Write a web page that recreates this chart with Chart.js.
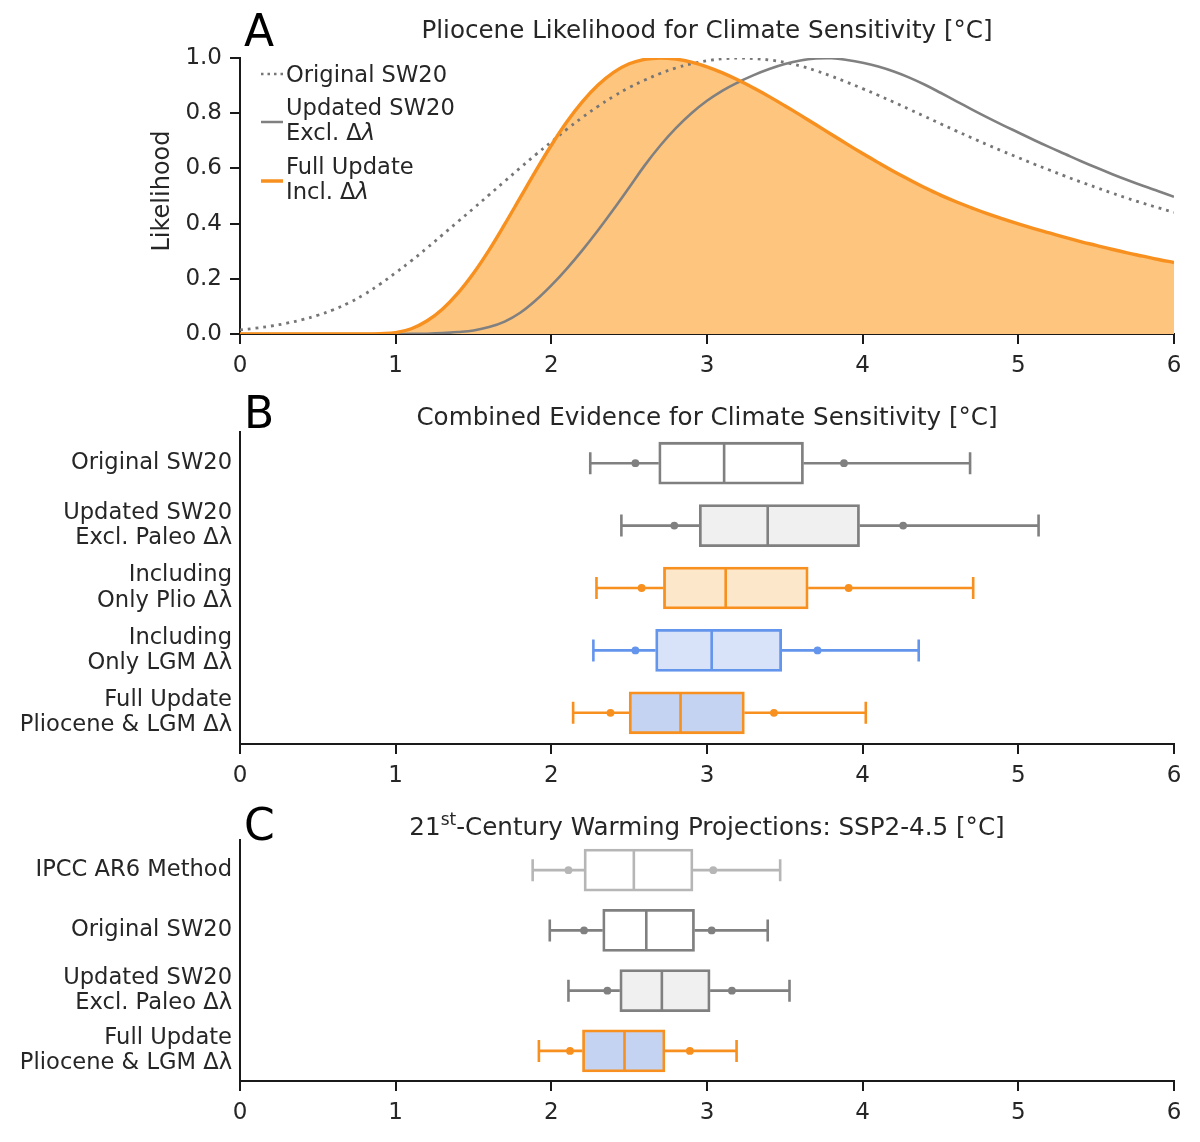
<!DOCTYPE html>
<html>
<head>
<meta charset="utf-8">
<script src="https://cdn.jsdelivr.net/npm/chart.js@4.4.0/dist/chart.umd.min.js"></script>
<style>
  body { margin: 0; background: #fff; }
  #page { position: relative; width: 1200px; height: 1142px; }
  canvas { position: absolute; left: 0; }
</style>
</head>
<body>
<div id="page">
  <canvas id="panelA" width="1200" height="390" style="top:0"></canvas>
  <canvas id="panelB" width="1200" height="400" style="top:390px"></canvas>
  <canvas id="panelC" width="1200" height="352" style="top:790px"></canvas>
</div>
<script>
// ---- panel A: likelihood curves ----
const sensitivity = [
  0.0, 0.1, 0.2, 0.3, 0.4, 0.5, 0.6, 0.7, 0.8, 0.9,
  1.0, 1.1, 1.2, 1.3, 1.4, 1.5, 1.6, 1.7, 1.8, 1.9,
  2.0, 2.1, 2.2, 2.3, 2.4, 2.5, 2.6, 2.7, 2.8, 2.9,
  3.0, 3.1, 3.2, 3.3, 3.4, 3.5, 3.6, 3.7, 3.8, 3.9,
  4.0, 4.1, 4.2, 4.3, 4.4, 4.5, 4.6, 4.7, 4.8, 4.9,
  5.0, 5.1, 5.2, 5.3, 5.4, 5.5, 5.6, 5.7, 5.8, 5.9, 6.0
];
const originalSW20 = [
  0.015, 0.021, 0.029, 0.039, 0.052, 0.068, 0.088, 0.113, 0.144, 0.181,
  0.222, 0.265, 0.311, 0.359, 0.407, 0.455, 0.504, 0.553, 0.602, 0.650,
  0.696, 0.742, 0.785, 0.825, 0.861, 0.893, 0.920, 0.944, 0.964, 0.979,
  0.990, 0.997, 1.000, 0.998, 0.993, 0.984, 0.971, 0.954, 0.934, 0.912,
  0.889, 0.865, 0.840, 0.814, 0.788, 0.762, 0.736, 0.711, 0.686, 0.662,
  0.639, 0.616, 0.594, 0.572, 0.551, 0.531, 0.511, 0.492, 0.474, 0.457, 0.441
];
const updatedSW20 = [
  0, 0, 0, 0, 0, 0, 0, 0, 0, 0,
  0, 0.0005, 0.001, 0.003, 0.007, 0.013, 0.025, 0.045, 0.077, 0.122,
  0.176, 0.237, 0.304, 0.376, 0.452, 0.531, 0.611, 0.683, 0.746, 0.800,
  0.845, 0.882, 0.912, 0.938, 0.960, 0.978, 0.991, 0.998, 0.999, 0.993,
  0.983, 0.969, 0.951, 0.929, 0.903, 0.874, 0.844, 0.814, 0.785, 0.757,
  0.730, 0.703, 0.677, 0.652, 0.627, 0.603, 0.580, 0.558, 0.537, 0.517, 0.497
];
const fullUpdate = [
  0, 0, 0, 0, 0, 0, 0, 0, 0, 0.0015,
  0.005, 0.019, 0.047, 0.090, 0.148, 0.220, 0.304, 0.397, 0.494, 0.591,
  0.684, 0.769, 0.842, 0.902, 0.948, 0.979, 0.995, 1.000, 0.996, 0.985,
  0.968, 0.946, 0.920, 0.891, 0.860, 0.827, 0.793, 0.758, 0.723, 0.688,
  0.654, 0.621, 0.589, 0.559, 0.530, 0.503, 0.479, 0.457, 0.436, 0.417,
  0.399, 0.382, 0.366, 0.350, 0.335, 0.321, 0.307, 0.294, 0.282, 0.270, 0.259
];
const likelihoodTicks = [0, 0.2, 0.4, 0.6, 0.8, 1.0];
const degreeTicks = [0, 1, 2, 3, 4, 5, 6];

// ---- panel B: combined evidence box plots ----
const evidenceLabels = [
  'Original SW20',
  ['Updated SW20', 'Excl. Paleo Δλ'],
  ['Including', 'Only Plio Δλ'],
  ['Including', 'Only LGM Δλ'],
  ['Full Update', 'Pliocene & LGM Δλ']
];
const evidenceWhiskerLo = [2.25, 2.45, 2.29, 2.27, 2.14];
const evidenceDotLo     = [2.54, 2.79, 2.58, 2.54, 2.38];
const evidenceBoxLo     = [2.69, 2.95, 2.72, 2.67, 2.50];
const evidenceMedian    = [3.11, 3.39, 3.12, 3.03, 2.83];
const evidenceBoxHi     = [3.62, 3.98, 3.65, 3.48, 3.24];
const evidenceDotHi     = [3.88, 4.26, 3.91, 3.71, 3.43];
const evidenceWhiskerHi = [4.69, 5.13, 4.71, 4.36, 4.02];

// ---- panel C: 21st-century warming box plots ----
const warmingLabels = [
  'IPCC AR6 Method',
  'Original SW20',
  ['Updated SW20', 'Excl. Paleo Δλ'],
  ['Full Update', 'Pliocene & LGM Δλ']
];
const warmingWhiskerLo = [1.88, 1.99, 2.11, 1.92];
const warmingDotLo     = [2.11, 2.21, 2.36, 2.12];
const warmingBoxLo     = [2.21, 2.33, 2.44, 2.20];
const warmingMedian    = [2.53, 2.61, 2.71, 2.47];
const warmingBoxHi     = [2.91, 2.92, 3.02, 2.73];
const warmingDotHi     = [3.04, 3.03, 3.16, 2.89];
const warmingWhiskerHi = [3.47, 3.39, 3.53, 3.19];

const GREY = '#808080';
const LIGHTGREY = '#b6b6b6';
const ORANGE = '#f7901e';
const BLUE = '#6495ed';
const TEXT = '#262626';
const AXIS = '#1a1a1a';
const FAMILY = '"DejaVu Sans"';

Chart.defaults.font.family = FAMILY;
Chart.defaults.color = TEXT;

const asPoints = ys => sensitivity.map((x, i) => ({ x: x, y: ys[i] }));

// draws a row of text pieces (plain, superscript, italic) starting/centred at x
function drawRuns(ctx, runs, x, y, align, size) {
  const fontOf = r => (r.italic ? 'italic ' : '') + (r.sup ? Math.round(size * 0.68) : size) + 'px ' + FAMILY;
  let total = 0;
  runs.forEach(r => { ctx.font = fontOf(r); total += ctx.measureText(r.text).width; });
  let cx = align === 'center' ? x - total / 2 : x;
  ctx.textAlign = 'left';
  runs.forEach(r => {
    ctx.font = fontOf(r);
    ctx.fillText(r.text, cx, r.sup ? y - size * 0.4 : y);
    cx += ctx.measureText(r.text).width;
  });
}

function panelText(cfg) {
  return {
    id: 'panelText',
    afterDraw(chart) {
      const { ctx, chartArea } = chart;
      ctx.save();
      ctx.textBaseline = 'alphabetic';
      ctx.fillStyle = '#000';
      ctx.font = '44px ' + FAMILY;
      ctx.textAlign = 'left';
      ctx.fillText(cfg.letter, 244, cfg.letterY);

      ctx.fillStyle = TEXT;
      drawRuns(ctx, cfg.title, (chartArea.left + chartArea.right) / 2, cfg.titleY, 'center', 24.6);

      if (cfg.yLabel) {
        ctx.save();
        ctx.translate(169, 191);
        ctx.rotate(-Math.PI / 2);
        ctx.font = '24px ' + FAMILY;
        ctx.textAlign = 'center';
        ctx.fillText(cfg.yLabel, 0, 0);
        ctx.restore();
      }

      (cfg.legend || []).forEach(item => {
        ctx.save();
        ctx.strokeStyle = item.color;
        ctx.lineWidth = item.width;
        ctx.setLineDash(item.dash || []);
        ctx.beginPath();
        ctx.moveTo(261, item.y);
        ctx.lineTo(283, item.y);
        ctx.stroke();
        ctx.restore();
        item.lines.forEach((runs, k) => {
          drawRuns(ctx, runs, 286, item.textY + k * 25, 'left', 22.6);
        });
      });
      ctx.restore();
    }
  };
}

// whiskers, caps, medians and dots of a box plot, placed with the chart's scales
function boxWhiskers(stats, edges) {
  return {
    id: 'boxWhiskers',
    afterDatasetsDraw(chart) {
      const { ctx } = chart;
      const x = chart.scales.x;
      const px = v => x.getPixelForValue(v);
      chart.getDatasetMeta(0).data.forEach((bar, i) => {
        const y = bar.y;
        const half = bar.height / 2 - 1;
        ctx.save();
        ctx.strokeStyle = edges[i];
        ctx.fillStyle = edges[i];
        ctx.lineWidth = 2.6;
        ctx.beginPath();
        ctx.moveTo(px(stats.whiskerLo[i]), y);
        ctx.lineTo(px(stats.boxLo[i]), y);
        ctx.moveTo(px(stats.boxHi[i]), y);
        ctx.lineTo(px(stats.whiskerHi[i]), y);
        ctx.moveTo(px(stats.whiskerLo[i]), y - 11);
        ctx.lineTo(px(stats.whiskerLo[i]), y + 11);
        ctx.moveTo(px(stats.whiskerHi[i]), y - 11);
        ctx.lineTo(px(stats.whiskerHi[i]), y + 11);
        ctx.moveTo(px(stats.median[i]), y - half);
        ctx.lineTo(px(stats.median[i]), y + half);
        ctx.stroke();
        [stats.dotLo[i], stats.dotHi[i]].forEach(v => {
          ctx.beginPath();
          ctx.arc(px(v), y, 3.9, 0, Math.PI * 2);
          ctx.fill();
        });
        ctx.restore();
      });
    }
  };
}

function degreeAxis(height) {
  return {
    type: 'linear',
    min: 0,
    max: 6,
    afterBuildTicks: s => { s.ticks = degreeTicks.map(v => ({ value: v })); },
    afterFit: s => { s.height = height; },
    grid: { drawOnChartArea: false, tickLength: 10, lineWidth: 2, color: AXIS },
    border: { display: true, color: AXIS, width: 2 },
    ticks: { padding: 8, color: TEXT, font: { size: 23 } }
  };
}

// ---- Panel A ----
new Chart(document.getElementById('panelA'), {
  type: 'line',
  data: {
    datasets: [
      {
        data: asPoints(fullUpdate),
        borderColor: ORANGE,
        borderWidth: 3.4,
        backgroundColor: '#fec57f',
        fill: 'origin'
      },
      {
        data: asPoints(updatedSW20),
        borderColor: GREY,
        borderWidth: 2.6,
        fill: false
      },
      {
        data: asPoints(originalSW20),
        borderColor: '#767676',
        borderWidth: 2.8,
        borderDash: [2.8, 5],
        fill: false
      }
    ]
  },
  options: {
    responsive: false,
    animation: false,
    devicePixelRatio: 1,
    layout: { padding: { left: 0, right: 26, top: 58, bottom: 0 } },
    elements: { point: { radius: 0 }, line: { tension: 0.4 } },
    plugins: {
      legend: { display: false },
      tooltip: { enabled: false },
      filler: { drawTime: 'beforeDatasetsDraw' }
    },
    scales: {
      x: degreeAxis(56),
      y: {
        type: 'linear',
        min: 0,
        max: 1,
        afterBuildTicks: s => { s.ticks = likelihoodTicks.map(v => ({ value: v })); },
        afterFit: s => { s.width = 240; },
        grid: { drawOnChartArea: false, tickLength: 10, lineWidth: 2, color: AXIS },
        border: { display: true, color: AXIS, width: 2 },
        ticks: { padding: 8, color: TEXT, font: { size: 23 }, callback: v => v.toFixed(1) }
      }
    }
  },
  plugins: [panelText({
    letter: 'A',
    letterY: 46,
    titleY: 38,
    title: [{ text: 'Pliocene Likelihood for Climate Sensitivity [°C]' }],
    yLabel: 'Likelihood',
    legend: [
      { color: '#767676', width: 2.5, dash: [2.5, 4], y: 74, textY: 82,
        lines: [[{ text: 'Original SW20' }]] },
      { color: GREY, width: 2.5, y: 122, textY: 115,
        lines: [[{ text: 'Updated SW20' }], [{ text: 'Excl. Δ' }, { text: 'λ', italic: true }]] },
      { color: ORANGE, width: 3.5, y: 181, textY: 174,
        lines: [[{ text: 'Full Update' }], [{ text: 'Incl. Δ' }, { text: 'λ', italic: true }]] }
    ]
  })]
});

// ---- box plot panels ----
function boxPanel(id, labels, stats, edges, fills, layout, text) {
  new Chart(document.getElementById(id), {
    type: 'bar',
    data: {
      labels: labels,
      datasets: [{
        data: labels.map((_, i) => [stats.boxLo[i], stats.boxHi[i]]),
        backgroundColor: fills,
        borderColor: edges,
        borderWidth: 2.8,
        borderSkipped: false,
        barThickness: 42
      }]
    },
    options: {
      indexAxis: 'y',
      responsive: false,
      animation: false,
      devicePixelRatio: 1,
      layout: { padding: { left: 0, right: 26, top: layout.top, bottom: 0 } },
      plugins: { legend: { display: false }, tooltip: { enabled: false } },
      scales: {
        x: degreeAxis(layout.axisHeight),
        y: {
          type: 'category',
          afterFit: s => { s.width = 240; },
          grid: { display: false },
          border: { display: true, color: AXIS, width: 2 },
          ticks: { padding: 0, color: TEXT, font: { size: 22.6, lineHeight: 1.12 } }
        }
      }
    },
    plugins: [boxWhiskers(stats, edges), panelText(text)]
  });
}

boxPanel('panelB', evidenceLabels, {
  whiskerLo: evidenceWhiskerLo, dotLo: evidenceDotLo, boxLo: evidenceBoxLo,
  median: evidenceMedian, boxHi: evidenceBoxHi, dotHi: evidenceDotHi, whiskerHi: evidenceWhiskerHi
},
  [GREY, GREY, ORANGE, BLUE, ORANGE],
  ['#ffffff', '#f0f0f0', '#fde7cb', '#d8e2f8', '#c5d3f3'],
  { top: 42, axisHeight: 46 },
  { letter: 'B', letterY: 38, titleY: 35,
    title: [{ text: 'Combined Evidence for Climate Sensitivity [°C]' }] });

boxPanel('panelC', warmingLabels, {
  whiskerLo: warmingWhiskerLo, dotLo: warmingDotLo, boxLo: warmingBoxLo,
  median: warmingMedian, boxHi: warmingBoxHi, dotHi: warmingDotHi, whiskerHi: warmingWhiskerHi
},
  [LIGHTGREY, GREY, GREY, ORANGE],
  ['#ffffff', '#ffffff', '#f0f0f0', '#c5d3f3'],
  { top: 50, axisHeight: 61 },
  { letter: 'C', letterY: 50, titleY: 45,
    title: [{ text: '21' }, { text: 'st', sup: true },
            { text: '-Century Warming Projections: SSP2-4.5 [°C]' }] });
</script>
</body>
</html>
